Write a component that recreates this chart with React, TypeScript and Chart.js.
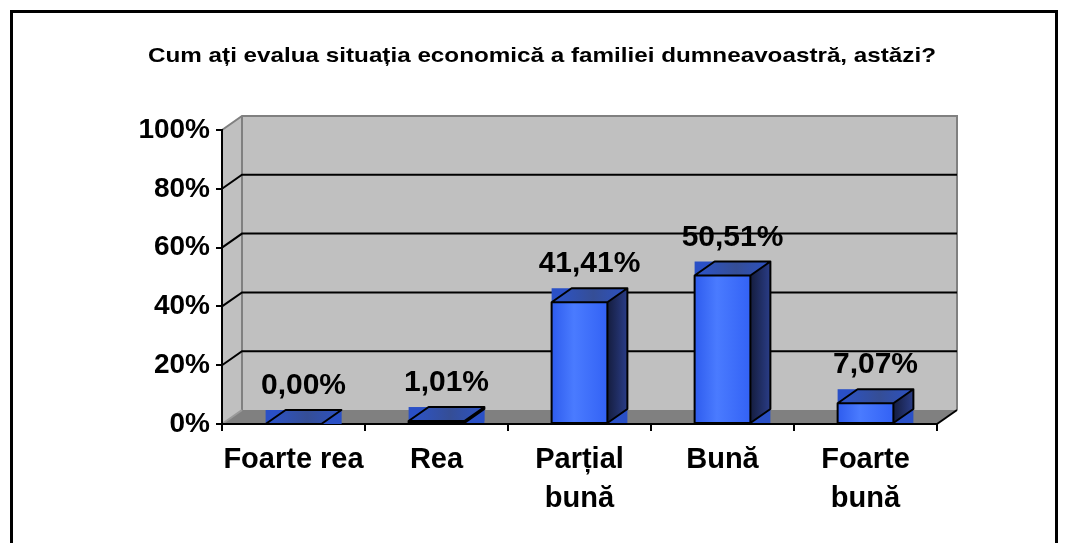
import { useEffect, useRef } from 'react';
import { Chart, registerables } from 'chart.js';

Chart.register(...registerables);

const titleText = 'Cum ați evalua situația economică a familiei dumneavoastră, astăzi?';
const categories: string[][] = [['Foarte rea'], ['Rea'], ['Parțial', 'bună'], ['Bună'], ['Foarte', 'bună']];
const values: number[] = [0.0, 1.01, 41.41, 50.51, 7.07];
const valueLabels: string[] = ['0,00%', '1,01%', '41,41%', '50,51%', '7,07%'];
const yTickValues: number[] = [0, 20, 40, 60, 80, 100];

const DX = 20;
const DY = -14;
const FONT = "'Liberation Sans', Arial, sans-serif";
const TITLE_WIDTH = 788;

const titlePlugin = {
  id: 'customTitle',
  afterDraw(chart: any) {
    const ctx = chart.ctx;
    ctx.save();
    ctx.fillStyle = '#000000';
    ctx.font = `bold 21px ${FONT}`;
    ctx.textAlign = 'center';
    ctx.textBaseline = 'alphabetic';
    const w = ctx.measureText(titleText).width;
    const sx = w > 0 ? TITLE_WIDTH / w : 1;
    ctx.translate(542, 62);
    ctx.scale(sx, 1);
    ctx.fillText(titleText, 0, 0);
    ctx.restore();
  },
};

const wallsPlugin = {
  id: 'walls3d',
  beforeDraw(chart: any) {
    const ctx = chart.ctx;
    const ys = chart.scales.y;
    const L = chart.chartArea.left;
    const R = chart.chartArea.right;
    const T = ys.getPixelForValue(100);
    const B = ys.getPixelForValue(0);
    ctx.save();
    ctx.fillStyle = '#C0C0C0';
    ctx.beginPath();
    ctx.moveTo(L, T);
    ctx.lineTo(L + DX, T + DY);
    ctx.lineTo(L + DX, B + DY);
    ctx.lineTo(L, B);
    ctx.closePath();
    ctx.fill();
    ctx.fillRect(L + DX, T + DY, R - L, B - T);
    ctx.fillStyle = '#808080';
    ctx.beginPath();
    ctx.moveTo(L, B);
    ctx.lineTo(L + DX, B + DY);
    ctx.lineTo(R + DX, B + DY);
    ctx.lineTo(R, B);
    ctx.closePath();
    ctx.fill();
    ctx.strokeStyle = '#808080';
    ctx.lineWidth = 2;
    ctx.beginPath();
    ctx.moveTo(L, T);
    ctx.lineTo(L + DX, T + DY);
    ctx.lineTo(R + DX, T + DY);
    ctx.lineTo(R + DX, B + DY);
    ctx.stroke();
    ctx.beginPath();
    ctx.moveTo(L + DX, T + DY);
    ctx.lineTo(L + DX, B + DY);
    ctx.stroke();
    ctx.strokeStyle = '#9A9A9A';
    ctx.beginPath();
    ctx.moveTo(L, B);
    ctx.lineTo(L + DX, B + DY);
    ctx.stroke();
    ctx.strokeStyle = '#000000';
    ctx.lineWidth = 2;
    yTickValues.forEach((v) => {
      if (v <= 0 || v >= 100) return;
      const py = ys.getPixelForValue(v);
      ctx.beginPath();
      ctx.moveTo(L, py);
      ctx.lineTo(L + DX, py + DY);
      ctx.lineTo(R + DX, py + DY);
      ctx.stroke();
    });
    ctx.beginPath();
    ctx.moveTo(R, B);
    ctx.lineTo(R + DX, B + DY);
    ctx.stroke();
    ctx.restore();
  },
};

const barsPlugin = {
  id: 'bars3d',
  afterDatasetsDraw(chart: any) {
    const ctx = chart.ctx;
    const meta = chart.getDatasetMeta(0);
    ctx.save();
    meta.data.forEach((bar: any, i: number) => {
      const p = bar.getProps(['x', 'y', 'base', 'width'], true);
      const x0 = p.x - p.width / 2;
      const x1 = p.x + p.width / 2;
      const top = p.y;
      const base = p.base;
      ctx.fillStyle = '#2A50C6';
      ctx.fillRect(x1, top + DY, DX, base - top - DY);
      ctx.fillRect(x0, top + DY, x1 + DX - x0, -DY);
      const gs = ctx.createLinearGradient(x1, 0, x1 + DX, 0);
      gs.addColorStop(0, '#151D3E');
      gs.addColorStop(1, '#2A3D88');
      ctx.fillStyle = gs;
      ctx.beginPath();
      ctx.moveTo(x1, top);
      ctx.lineTo(x1 + DX, top + DY);
      ctx.lineTo(x1 + DX, base + DY);
      ctx.lineTo(x1, base);
      ctx.closePath();
      ctx.fill();
      const gt = ctx.createLinearGradient(x0, 0, x1 + DX, 0);
      gt.addColorStop(0, '#2C54CC');
      gt.addColorStop(0.55, '#354E96');
      gt.addColorStop(1, '#2C52C4');
      ctx.fillStyle = gt;
      ctx.beginPath();
      ctx.moveTo(x0, top);
      ctx.lineTo(x0 + DX, top + DY);
      ctx.lineTo(x1 + DX, top + DY);
      ctx.lineTo(x1, top);
      ctx.closePath();
      ctx.fill();
      const gf = ctx.createLinearGradient(x0, 0, x1, 0);
      gf.addColorStop(0, '#2E5CEE');
      gf.addColorStop(0.4, '#4A7BFF');
      gf.addColorStop(1, '#3362F5');
      ctx.fillStyle = gf;
      ctx.fillRect(x0, top, x1 - x0, base - top);
      ctx.strokeStyle = '#000000';
      ctx.lineWidth = 2;
      ctx.lineJoin = 'round';
      ctx.beginPath();
      ctx.rect(x0, top, x1 - x0, base - top);
      ctx.moveTo(x0, top);
      ctx.lineTo(x0 + DX, top + DY);
      ctx.lineTo(x1 + DX, top + DY);
      ctx.lineTo(x1, top);
      ctx.moveTo(x1 + DX, top + DY);
      ctx.lineTo(x1 + DX, base + DY);
      ctx.lineTo(x1, base);
      ctx.stroke();
      ctx.fillStyle = '#000000';
      ctx.font = `bold 30px ${FONT}`;
      ctx.textAlign = 'center';
      ctx.textBaseline = 'alphabetic';
      ctx.fillText(valueLabels[i], p.x + DX / 2, top + DY - 16);
    });
    ctx.restore();
  },
};

const framePlugin = {
  id: 'frame',
  afterDraw(chart: any) {
    const ctx = chart.ctx;
    ctx.save();
    ctx.strokeStyle = '#000000';
    ctx.lineWidth = 3;
    ctx.strokeRect(11.5, 11.5, 1045, 700);
    ctx.restore();
  },
};

export default function App() {
  const canvasRef = useRef<HTMLCanvasElement | null>(null);

  useEffect(() => {
    document.body.style.margin = '0';
    const canvas = canvasRef.current;
    if (!canvas) return;
    const chart = new Chart(canvas, {
      type: 'bar',
      data: {
        labels: categories,
        datasets: [
          {
            data: values,
            backgroundColor: 'rgba(0,0,0,0)',
            borderWidth: 0,
            barPercentage: 0.39,
            categoryPercentage: 1,
          },
        ],
      },
      options: {
        responsive: false,
        animation: false,
        devicePixelRatio: 1,
        layout: { padding: { left: 0, right: 128, top: 130, bottom: 0 } },
        plugins: {
          legend: { display: false },
          tooltip: { enabled: false },
          title: { display: false },
        },
        scales: {
          x: {
            afterFit: (scale: any) => {
              scale.height = 119;
            },
            grid: {
              display: true,
              drawOnChartArea: false,
              drawTicks: true,
              tickLength: 7,
              color: '#000000',
              lineWidth: 2,
              offset: true,
            },
            border: { display: true, color: '#000000', width: 2 },
            ticks: {
              color: '#000000',
              font: { family: FONT, size: 29, weight: 'bold', lineHeight: 1.35 },
              maxRotation: 0,
              minRotation: 0,
              autoSkip: false,
              padding: 9,
            },
          },
          y: {
            min: 0,
            max: 100,
            afterFit: (scale: any) => {
              scale.width = 222;
            },
            afterBuildTicks: (scale: any) => {
              scale.ticks = yTickValues.map((v) => ({ value: v }));
            },
            grid: {
              display: true,
              drawOnChartArea: false,
              drawTicks: true,
              tickLength: 6,
              color: '#000000',
              lineWidth: 2,
            },
            border: { display: true, color: '#000000', width: 2 },
            ticks: {
              color: '#000000',
              font: { family: FONT, size: 28, weight: 'bold' },
              padding: 6,
              callback: (v: any) => `${v}%`,
            },
          },
        },
      },
      plugins: [wallsPlugin, barsPlugin, framePlugin, titlePlugin],
    });
    return () => chart.destroy();
  }, []);

  return (
    <div style={{ position: 'fixed', left: 0, top: 0, width: 1065, height: 543, background: '#FFFFFF' }}>
      <canvas ref={canvasRef} width={1065} height={543} />
    </div>
  );
}
